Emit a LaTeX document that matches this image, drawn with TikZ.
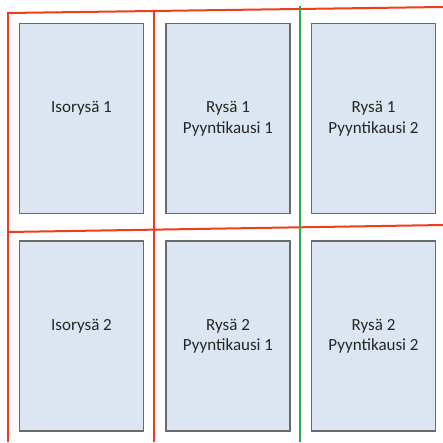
\documentclass[tikz,border=0pt]{standalone}
\usepackage{fontspec}
\setmainfont{Carlito}
\definecolor{boxblue}{HTML}{DCE6F2}
\definecolor{boxgray}{HTML}{6A6A6A}
\definecolor{gridred}{HTML}{F23A1E}
\definecolor{gridgreen}{HTML}{2EAA46}

\begin{document}
\begin{tikzpicture}[x=1pt, y=1pt,
  pen/.style={rectangle, draw=boxgray, fill=boxblue, line width=1.2pt, minimum width=124pt, minimum height=190pt, inner sep=0pt},
  tag/.style={font=\fontsize{17}{20.5}\selectfont, align=center, text=black!85, inner sep=0pt},
  redline/.style={draw=gridred, line width=2pt},
  greenline/.style={draw=gridgreen, line width=2pt}]
  \useasboundingbox (0,0) rectangle (443,442);
  \node[pen] (iso1) at (81.5, 323.5) {};
  \node[pen] (rys11) at (228, 323.5) {};
  \node[pen] (rys12) at (373.5, 323.5) {};
  \node[pen] (iso2) at (81.5, 106) {};
  \node[pen] (rys21) at (228, 106) {};
  \node[pen] (rys22) at (373.5, 106) {};
  \node[tag] (t11) at ([yshift=10pt]iso1.center) {Isorysä 1};
  \node[tag] (t12) at (rys11.center) {Rysä 1\\Pyyntikausi 1};
  \node[tag] (t13) at (rys12.center) {Rysä 1\\Pyyntikausi 2};
  \node[tag] (t21) at ([yshift=10pt]iso2.center) {Isorysä 2};
  \node[tag] (t22) at (rys21.center) {Rysä 2\\Pyyntikausi 1};
  \node[tag] (t23) at (rys22.center) {Rysä 2\\Pyyntikausi 2};
  % grid lines
  \draw[redline] (8,429) -- (443,435);
  \draw[redline] (8,210) -- (443,217);
  \draw[redline] (8,430) -- (8,0);
  \draw[redline] (154,430) -- (154,0);
  \draw[greenline] (300,436) -- (300,0);
\end{tikzpicture}
\end{document}
